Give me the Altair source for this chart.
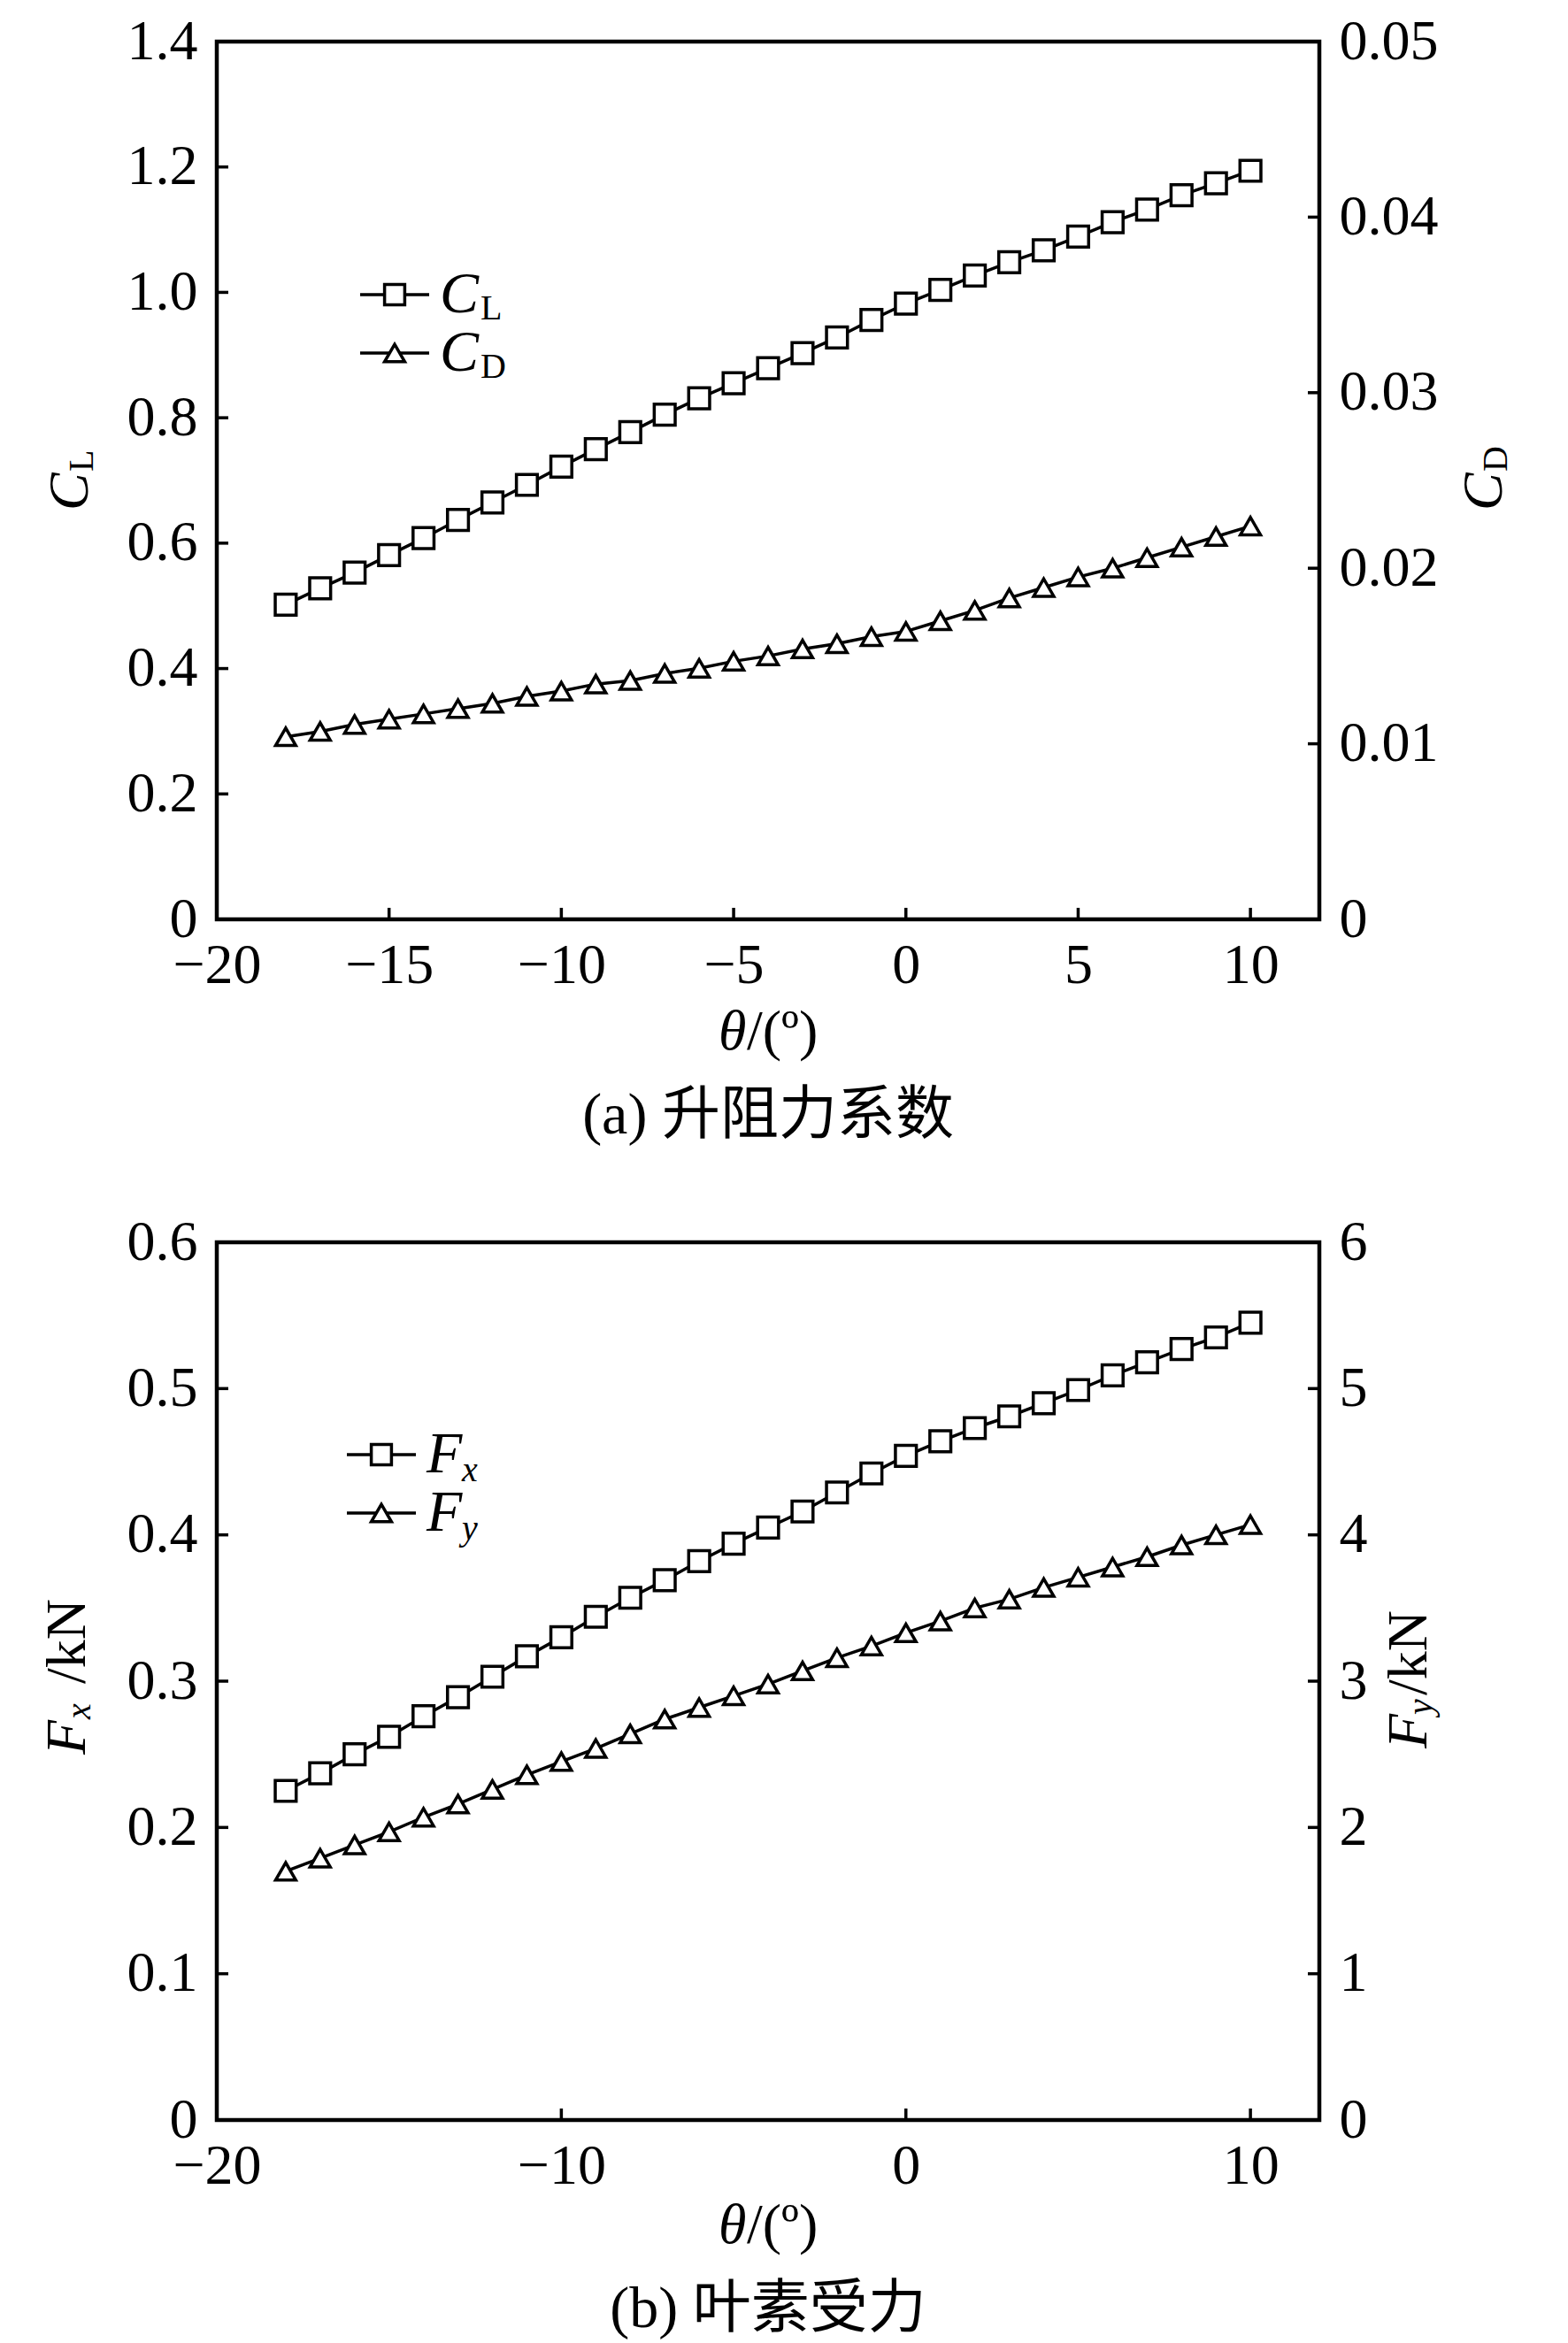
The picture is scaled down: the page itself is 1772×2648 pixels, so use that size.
import altair as alt
import pandas as pd

# angle of attack (deg)
theta = list(range(-18, 11))

# (a) lift / drag coefficients
cl = [0.502, 0.528, 0.553, 0.581, 0.608, 0.637, 0.665, 0.693, 0.722, 0.750,
      0.777, 0.805, 0.831, 0.855, 0.879, 0.903, 0.928, 0.956, 0.982, 1.004,
      1.027, 1.048, 1.067, 1.089, 1.112, 1.132, 1.155, 1.174, 1.194]
cd = [0.0104, 0.0107, 0.0111, 0.0114, 0.0117, 0.0120, 0.0123, 0.0127, 0.0130, 0.0134,
      0.0136, 0.0140, 0.0143, 0.0147, 0.0150, 0.0154, 0.0157, 0.0161, 0.0164, 0.0170,
      0.0176, 0.0183, 0.0189, 0.0195, 0.0200, 0.0206, 0.0212, 0.0218, 0.0224]

# (b) blade element forces (kN)
fx = [0.225, 0.237, 0.250, 0.262, 0.276, 0.289, 0.303, 0.317, 0.330, 0.344,
      0.357, 0.369, 0.382, 0.394, 0.405, 0.416, 0.429, 0.442, 0.454, 0.464,
      0.473, 0.481, 0.490, 0.499, 0.509, 0.518, 0.527, 0.535, 0.545]
fy = [1.70, 1.79, 1.88, 1.97, 2.07, 2.16, 2.26, 2.36, 2.45, 2.54,
      2.64, 2.74, 2.82, 2.90, 2.98, 3.07, 3.16, 3.24, 3.33, 3.41,
      3.50, 3.56, 3.64, 3.71, 3.78, 3.85, 3.93, 4.00, 4.07]

ticks_x_a = [-20, -15, -10, -5, 0, 5, 10]
ticks_x_b = [-20, -10, 0, 10]
ticks_cl = [0, 0.2, 0.4, 0.6, 0.8, 1.0, 1.2, 1.4]
ticks_cd = [0, 0.01, 0.02, 0.03, 0.04, 0.05]
ticks_fx = [0, 0.1, 0.2, 0.3, 0.4, 0.5, 0.6]
ticks_fy = [0, 1, 2, 3, 4, 5, 6]

W, H = 1246, 992
SERIF = "Liberation Serif"
CJK = "'Liberation Serif', 'Noto Sans CJK SC'"
FS = 64      # main text size
SUB = 40     # subscript size
LW = 3.5     # line width
TICK = 13    # inward tick length
one = pd.DataFrame({"k": [0]})


def txt(x, y, s, size=FS, italic=False, angle=0, align="left", font=SERIF):
    m = dict(text=s, font=font, fontSize=size, color="black", align=align,
             baseline="middle", angle=angle)
    if italic:
        m["fontStyle"] = "italic"
    return alt.Chart(one).mark_text(**m).encode(x=alt.value(x), y=alt.value(y))


def vtitle(x, y0, parts):
    # rotated (bottom-to-top) title built from pieces: (text, size, italic, shift, advance)
    out = []
    y = y0
    for s, size, italic, shift, adv in parts:
        out.append(txt(x + shift, y, s, size, italic, angle=270))
        y -= adv
    return out


def panel(lv, rv, ldom, rdom, lticks, rticks, xticks, lfmt, rfmt,
          ltitle, rtitle, legend, leg_x, leg_y, caption, xt_dy, cap_dy):
    df = pd.DataFrame({"theta": theta, "l": lv, "r": rv})
    xs = alt.Scale(domain=[-20, 12], nice=False, zero=False)
    xax = alt.Axis(values=xticks, title=None, labelPadding=20, format="d",
                   labelFlush=False)
    ls = alt.Scale(domain=ldom, nice=False, zero=False)
    rs = alt.Scale(domain=rdom, nice=False, zero=False)
    lax = alt.Axis(orient="left", values=lticks, title=None, labelPadding=22,
                   labelExpr=f"datum.value == 0 ? '0' : format(datum.value, '{lfmt}')")
    rax = alt.Axis(orient="right", values=rticks, title=None, labelPadding=22,
                   labelExpr=f"datum.value == 0 ? '0' : format(datum.value, '{rfmt}')")

    base = alt.Chart(df)
    xenc = alt.X("theta:Q", scale=xs, axis=xax)

    left_line = base.mark_line(color="black", strokeWidth=LW).encode(
        x=xenc, y=alt.Y("l:Q", scale=ls, axis=lax))
    left_pts = base.mark_point(shape="square", size=560, filled=True, fill="white",
                               stroke="black", strokeWidth=LW, opacity=1).encode(
        x=xenc, y=alt.Y("l:Q", scale=ls, axis=lax))
    lt = pd.DataFrame({"v": lticks[1:-1]})
    left_ticks = alt.Chart(lt).mark_rule(color="black", strokeWidth=LW).encode(
        y=alt.Y("v:Q", scale=ls, axis=lax), x=alt.value(0), x2=alt.value(TICK))
    left = alt.layer(left_line, left_pts, left_ticks)

    right_line = base.mark_line(color="black", strokeWidth=LW).encode(
        x=xenc, y=alt.Y("r:Q", scale=rs, axis=rax))
    right_pts = base.mark_point(shape="triangle-up", size=520, filled=True, fill="white",
                                stroke="black", strokeWidth=LW, opacity=1).encode(
        x=xenc, y=alt.Y("r:Q", scale=rs, axis=rax))
    rt = pd.DataFrame({"v": rticks[1:-1]})
    right_ticks = alt.Chart(rt).mark_rule(color="black", strokeWidth=LW).encode(
        y=alt.Y("v:Q", scale=rs, axis=rax), x=alt.value(W - TICK), x2=alt.value(W))
    right = alt.layer(right_line, right_pts, right_ticks)

    xt = pd.DataFrame({"v": xticks[1:]})
    x_ticks = alt.Chart(xt).mark_rule(color="black", strokeWidth=LW).encode(
        x=alt.X("v:Q", scale=xs, axis=xax), y=alt.value(H - TICK), y2=alt.value(H))

    extras = []
    # legend
    for i, (shape, parts) in enumerate(legend):
        yy = leg_y + i * 66
        extras.append(alt.Chart(one).mark_rule(color="black", strokeWidth=LW).encode(
            x=alt.value(leg_x), x2=alt.value(leg_x + 78), y=alt.value(yy)))
        extras.append(alt.Chart(one).mark_point(
            shape=shape, size=520, filled=True, fill="white", stroke="black",
            strokeWidth=LW, opacity=1).encode(x=alt.value(leg_x + 39), y=alt.value(yy)))
        tx = leg_x + 90
        for s, size, italic, dy, adv in parts:
            extras.append(txt(tx, yy + dy, s, size, italic))
            tx += adv
    # axis titles: (x offset, bottom y offset, pieces)
    extras += vtitle(ltitle[0], H / 2 + ltitle[1], ltitle[2])
    extras += vtitle(W + rtitle[0], H / 2 + rtitle[1], rtitle[2])
    # x title and caption
    extras.append(txt(W / 2 - 56, H + xt_dy, "θ", FS, True))
    extras.append(txt(W / 2 - 24, H + xt_dy, "/(º)", FS))
    extras.append(txt(W / 2, H + cap_dy, caption, 66, align="center", font=CJK))

    return alt.layer(left, right, x_ticks, *extras).resolve_scale(
        y="independent").properties(width=W, height=H)


top = panel(
    cl, cd, [0, 1.4], [0, 0.05], ticks_cl, ticks_cd, ticks_x_a, ".1f", ".2f",
    (-165, 34, [("C", FS, True, 0, 44), ("L", SUB, False, 13, 26)]),
    (187, 34, [("C", FS, True, 0, 44), ("D", SUB, False, 13, 28)]),
    [("square", [("C", 66, True, 0, 46), ("L", SUB, False, 16, 26)]),
     ("triangle-up", [("C", 66, True, 0, 46), ("D", SUB, False, 16, 28)])],
    162, 286, "(a) 升阻力系数", 128, 222)

bottom = panel(
    fx, fy, [0, 0.6], [0, 6], ticks_fx, ticks_fy, ticks_x_b, ".1f", "d",
    (-168, 83, [("F", FS, True, 0, 40), ("x", SUB, True, 13, 40),
                ("/kN", FS, False, 0, 96)]),
    (102, 76, [("F", FS, True, 0, 38), ("y", SUB, True, 13, 22),
               ("/kN", FS, False, 0, 96)]),
    [("square", [("F", 66, True, 0, 40), ("x", SUB, True, 18, 22)]),
     ("triangle-up", [("F", 66, True, 0, 40), ("y", SUB, True, 18, 22)])],
    147, 240, "(b) 叶素受力", 120, 214)

chart = alt.vconcat(top, bottom, spacing=72).properties(
    padding={"top": 4, "left": 34, "right": 10, "bottom": 0}
).configure_view(
    stroke="black", strokeWidth=4.5
).configure_axis(
    labelFont=SERIF, labelFontSize=FS, labelColor="black",
    ticks=False, domain=False, grid=False
)

chart.save("out.html", embed_options={"renderer": "svg", "actions": False})
